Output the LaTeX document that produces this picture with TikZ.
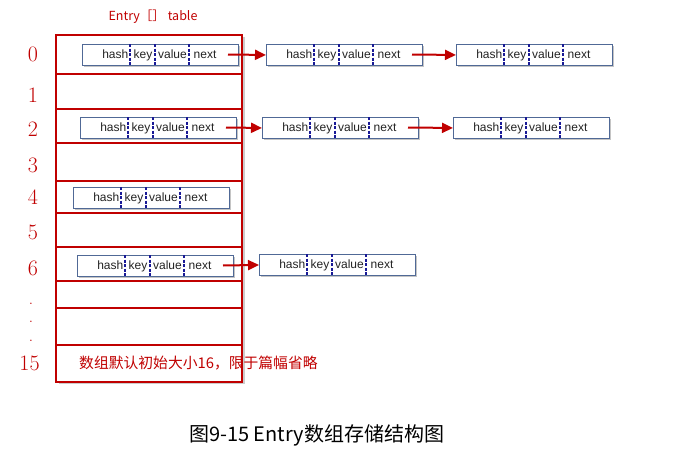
\documentclass[tikz,border=0pt]{standalone}
\usepackage{fontspec}
\newfontfamily\cjk{Noto Sans CJK SC}
\newfontfamily\arial{Liberation Sans}
\usetikzlibrary{shadows,arrows.meta}
\definecolor{tablered}{RGB}{192,0,0}
\definecolor{boxblue}{RGB}{80,105,150}
\definecolor{divblue}{RGB}{25,25,150}
\definecolor{fieldgray}{RGB}{35,35,35}
\tikzset{
  tableframe/.style={draw=tablered, line width=2pt, fill=white,
    drop shadow={shadow xshift=2.5pt, shadow yshift=-2pt, fill=black!40, opacity=.5}},
  tableline/.style={draw=tablered, line width=2pt},
  indexlabel/.style={text=tablered, font=\fontsize{22}{24}\selectfont, inner sep=0pt},
  dotlabel/.style={text=tablered, font=\fontsize{17}{17}\selectfont, inner sep=0pt},
  entrybox/.style={draw=boxblue, line width=0.9pt, fill=white, minimum width=156pt,
    minimum height=21pt, inner sep=0pt, anchor=north west,
    drop shadow={shadow xshift=2pt, shadow yshift=-2pt, fill=black!45, opacity=.5}},
  divider/.style={draw=divblue, line width=1.2pt, dash pattern=on 3pt off 1.5pt},
  fieldtext/.style={text=fieldgray, font=\arial\fontsize{12}{14}\selectfont, inner sep=0pt,
    text height=8.6pt, text depth=2.5pt},
  linkarrow/.style={draw=tablered, line width=2pt, -{Triangle[length=11pt,width=10pt]}},
  entry/.pic={
    \node[entrybox] (-box) at (0,0) {};
    \draw[divider] (48,0) -- (48,21);
    \draw[divider] (73,0) -- (73,21);
    \draw[divider] (107,0) -- (107,21);
    \node[fieldtext, anchor=east] (-hash) at (46.5,11) {hash};
    \node[fieldtext] (-key) at (61,11) {key};
    \node[fieldtext] (-value) at (90.5,11) {value};
    \node[fieldtext, anchor=west] (-nextf) at (111.5,11) {next};
    \coordinate (-next) at (146,10.5);
  }
}
\begin{document}
\begin{tikzpicture}[x=1pt,y=-1pt]
\useasboundingbox (0,0) rectangle (694,458);
% title
\node[text=tablered, font=\cjk\fontsize{12.5}{14}\selectfont, inner sep=0pt] (title) at (153,17) {Entry［］ table};
% table
\path[tableframe] (56,35) rectangle (242,382);
\foreach \yy in {74,109,143,181,213,247,281,308,345}
  \draw[tableline] (56,\yy) -- (242,\yy);
% index labels
\node[indexlabel] (i0) at (33,54.5) {0};
\node[indexlabel] (i1) at (33,95.5) {1};
\node[indexlabel] (i2) at (33,129.5) {2};
\node[indexlabel] (i3) at (33,165) {3};
\node[indexlabel] (i4) at (33,197.5) {4};
\node[indexlabel] (i5) at (33,232.5) {5};
\node[indexlabel] (i6) at (33,268.5) {6};
\node[dotlabel] (d1) at (31,304) {.};
\node[dotlabel] (d2) at (31,322) {.};
\node[dotlabel] (d3) at (31,341) {.};
\node[indexlabel] (i15) at (29.5,363.5) {15};
% entries
\pic (r0a) at (82,44) {entry};
\pic (r0b) at (266,44) {entry};
\pic (r0c) at (456,44) {entry};
\pic (r2a) at (80,117) {entry};
\pic (r2b) at (262,117) {entry};
\pic (r2c) at (453,117) {entry};
\pic (r4a) at (73,187) {entry};
\pic (r6a) at (77,255) {entry};
\pic (r6b) at (259,254) {entry};
% links
\draw[linkarrow] (r0a-next) -- (r0b-box.west);
\draw[linkarrow] (r0b-next) -- (r0c-box.west);
\draw[linkarrow] (r2a-next) -- (r2b-box.west);
\draw[linkarrow] (r2b-next) -- (r2c-box.west);
\draw[linkarrow] (r6a-next) -- (r6b-box.west);
% note
\node[text=tablered, font=\cjk\fontsize{14.8}{16}\selectfont, inner sep=0pt, anchor=west] (note) at (79,363) {数组默认初始大小16，限于篇幅省略};
% caption
\node[text=black, font=\cjk\fontsize{20}{22}\selectfont, inner sep=0pt] (caption) at (316.5,435) {图9-15 Entry数组存储结构图};
\end{tikzpicture}
\end{document}
